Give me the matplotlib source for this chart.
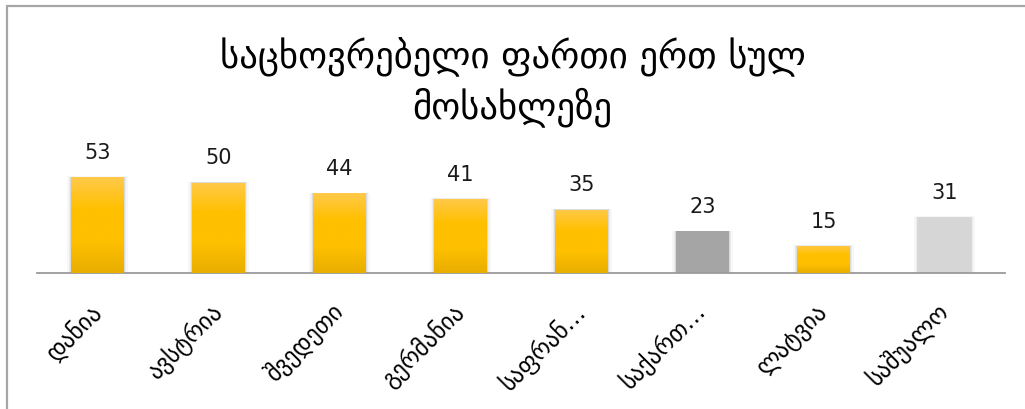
import numpy as np
import matplotlib
matplotlib.use('Agg')
import matplotlib.pyplot as plt
from matplotlib.patches import Rectangle
from matplotlib.colors import LinearSegmentedColormap

# ---------------- data ----------------
countries = ['დანია', 'ავსტრია', 'შვედეთი', 'გერმანია',
             'საფრან…', 'საქართ…', 'ლატვია', 'საშუალო']
area = [53, 50, 44, 41, 35, 23, 15, 31]
bar_kind = ['gold', 'gold', 'gold', 'gold', 'gold', 'dark', 'gold', 'light']
title = 'საცხოვრებელი ფართი ერთ სულ\nმოსახლეზე'

plt.rcParams['font.family'] = ['DejaVu Sans']

fig = plt.figure(figsize=(10.25, 4.1), dpi=100)
W, H = 1025, 410
# axes placed in pixel terms: baseline at y=274, x from 37 to 1005
ax = fig.add_axes([37 / W, (H - 274) / H, 968 / W, 134 / H])
x = np.arange(len(countries))

gold_cmap = LinearSegmentedColormap.from_list(
    'gold', ['#E8AE00', '#FFC000', '#FFC000', '#FFC94A'])
flat = {'dark': '#A5A5A5', 'light': '#D6D6D6'}
width = 0.43

# soft halo behind bars
for grow, a in [(0.035, 0.07), (0.02, 0.12), (0.01, 0.2)]:
    ax.bar(x, [v + grow * 10 for v in area], width=width + grow * 2,
           color='#9a9a9a', alpha=a, zorder=1, linewidth=0)

bars = ax.bar(x, area, width=width, color='#FFC000', zorder=2, linewidth=0)
grad = np.linspace(0, 1, 256).reshape(-1, 1)
for b, kind in zip(bars, bar_kind):
    if kind == 'gold':
        im = ax.imshow(grad, cmap=gold_cmap, origin='lower', aspect='auto',
                       extent=[b.get_x(), b.get_x() + b.get_width(), 0, b.get_height()],
                       zorder=3)
        im.set_clip_path(b)
    else:
        b.set_facecolor(flat[kind])

ax.set_xlim(-0.5, len(countries) - 0.5)
ax.set_ylim(0, 134 / 1.81)

for xi, v in zip(x, area):
    ax.annotate(str(v), (xi, v), xytext=(0, 11), textcoords='offset points',
                ha='center', va='bottom', fontsize=15, color='#1a1a1a')

for s in ['top', 'right', 'left']:
    ax.spines[s].set_visible(False)
ax.spines['bottom'].set_color('#9a9a9a')
ax.spines['bottom'].set_linewidth(1.3)
ax.set_yticks([])
ax.set_xticks(x)
ax.set_xticklabels(countries, rotation=45, ha='right', va='center',
                   rotation_mode='anchor', fontsize=17)
ax.tick_params(axis='x', length=0, pad=24)

fig.text(0.5, 0.80, title, ha='center', va='center', fontsize=26.5,
         linespacing=1.3, color='black')

# chart-area frame (runs off the right and bottom edges)
fig.patches.append(Rectangle((7 / W, -0.1), 1.2, 1.1 - 7 / H, transform=fig.transFigure,
                             fill=False, edgecolor='#a6a6a6', linewidth=1.6))

fig.savefig('out.png', dpi=100, facecolor='white')
